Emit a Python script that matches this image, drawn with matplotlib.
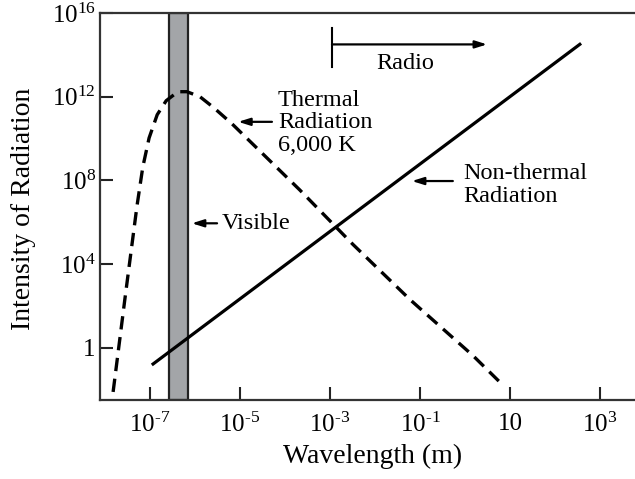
import numpy as np
import matplotlib
matplotlib.use("Agg")
import matplotlib.pyplot as plt

plt.rcParams['font.family'] = ['Liberation Serif', 'DejaVu Serif']
plt.rcParams['mathtext.fontset'] = 'custom'
plt.rcParams['mathtext.rm'] = 'Liberation Serif'
plt.rcParams['mathtext.it'] = 'Liberation Serif:italic'
plt.rcParams['mathtext.bf'] = 'Liberation Serif:bold'

# ---- data (log10 values) ----
thermal_log_wl = [-7.82, -7.56, -7.29, -7.16, -7.02, -6.84, -6.64, -6.38, -6.18,
                  -5.89, -5.58, -5.18, -3.67, -2.49, -1.22, 0.18, 0.84]
thermal_log_int = [-2.11, 2.30, 6.77, 8.64, 10.03, 11.14, 11.81, 12.24, 12.24,
                   12.00, 11.47, 10.71, 7.54, 4.94, 2.30, -0.38, -1.78]
nonthermal_log_wl = [-6.96, 2.58]
nonthermal_log_int = [-0.82, 14.55]
visible_log_range = [-6.58, -6.16]

x_tick_exp = [-7, -5, -3, -1, 1, 3]
x_tick_labels = [r'$10^{\text{-}7}$', r'$10^{\text{-}5}$', r'$10^{\text{-}3}$',
                 r'$10^{\text{-}1}$', '10', r'$10^{3}$']
y_tick_exp = [0, 4, 8, 12, 16]
y_tick_labels = ['1', r'$10^{4}$', r'$10^{8}$', r'$10^{12}$', r'$10^{16}$']

wl_t = 10.0 ** np.array(thermal_log_wl)
in_t = 10.0 ** np.array(thermal_log_int)
wl_n = 10.0 ** np.array(nonthermal_log_wl)
in_n = 10.0 ** np.array(nonthermal_log_int)

fig = plt.figure(figsize=(6.35, 4.79), dpi=100)
ax = fig.add_axes([0.1575, 0.1649, 0.8425, 0.8079])
ax.set_xscale('log')
ax.set_yscale('log')
ax.set_xlim(10 ** -8.111, 10 ** 3.778)
ax.set_ylim(10 ** -2.496, 10 ** 16.0)

ax.axvspan(10 ** visible_log_range[0], 10 ** visible_log_range[1],
           facecolor='#a3a5a8', edgecolor='#222222', lw=1.6, zorder=1)

ax.plot(wl_t, in_t, color='black', lw=2.4, dashes=(4.0, 2.3), zorder=3)
ax.plot(wl_n, in_n, color='black', lw=2.3, solid_capstyle='butt', zorder=3)

for s in ['left', 'bottom', 'top']:
    ax.spines[s].set_linewidth(1.6)
    ax.spines[s].set_color('#333333')
ax.spines['right'].set_visible(False)

ax.set_xticks([10.0 ** e for e in x_tick_exp])
ax.set_xticklabels(x_tick_labels)
ax.set_yticks([10.0 ** e for e in y_tick_exp])
ax.set_yticklabels(y_tick_labels)
ax.minorticks_off()
ax.tick_params(axis='both', direction='in', length=9.5, width=1.5,
               labelsize=18, color='#222222')
ax.tick_params(axis='x', pad=9)
ax.tick_params(axis='y', pad=3)

fig.text(373 / 635, 1 - 456 / 479, 'Wavelength (m)', fontsize=20,
         ha='center', va='center')
fig.text(24 / 635, 1 - 209 / 479, 'Intensity of Radiation', fontsize=20,
         ha='center', va='center', rotation=90)

ap = dict(arrowstyle='-|>,head_length=0.7,head_width=0.22', lw=1.6,
          color='black', shrinkA=0, shrinkB=0)
fs = 17.5

# Thermal annotation
ax.annotate('', xy=(10 ** -5.04, 10 ** 10.8), xytext=(10 ** -4.29, 10 ** 10.8),
            arrowprops=ap)
ax.text(10 ** -4.16, 10 ** 10.75, 'Thermal\nRadiation\n6,000 K', fontsize=fs,
        ha='left', va='center', linespacing=1.08)

# Visible annotation
ax.annotate('', xy=(10 ** -6.07, 10 ** 5.95), xytext=(10 ** -5.51, 10 ** 5.95),
            arrowprops=ap)
ax.text(10 ** -5.40, 10 ** 5.95, 'Visible', fontsize=fs, ha='left', va='center')

# Non-thermal annotation
ax.annotate('', xy=(10 ** -1.18, 10 ** 7.97), xytext=(10 ** -0.27, 10 ** 7.97),
            arrowprops=ap)
ax.text(10 ** -0.04, 10 ** 7.78, 'Non-thermal\nRadiation', fontsize=fs,
        ha='left', va='center', linespacing=1.1)

# Radio annotation
ax.plot([10 ** -2.956, 10 ** -2.956], [10 ** 13.44, 10 ** 15.27], color='black', lw=1.5)
ax.annotate('', xy=(10 ** 0.49, 10 ** 14.5), xytext=(10 ** -2.956, 10 ** 14.5),
            arrowprops=ap)
ax.text(10 ** -1.33, 10 ** 13.6, 'Radio', fontsize=fs, ha='center', va='center')

fig.savefig('out.png', dpi=100)
